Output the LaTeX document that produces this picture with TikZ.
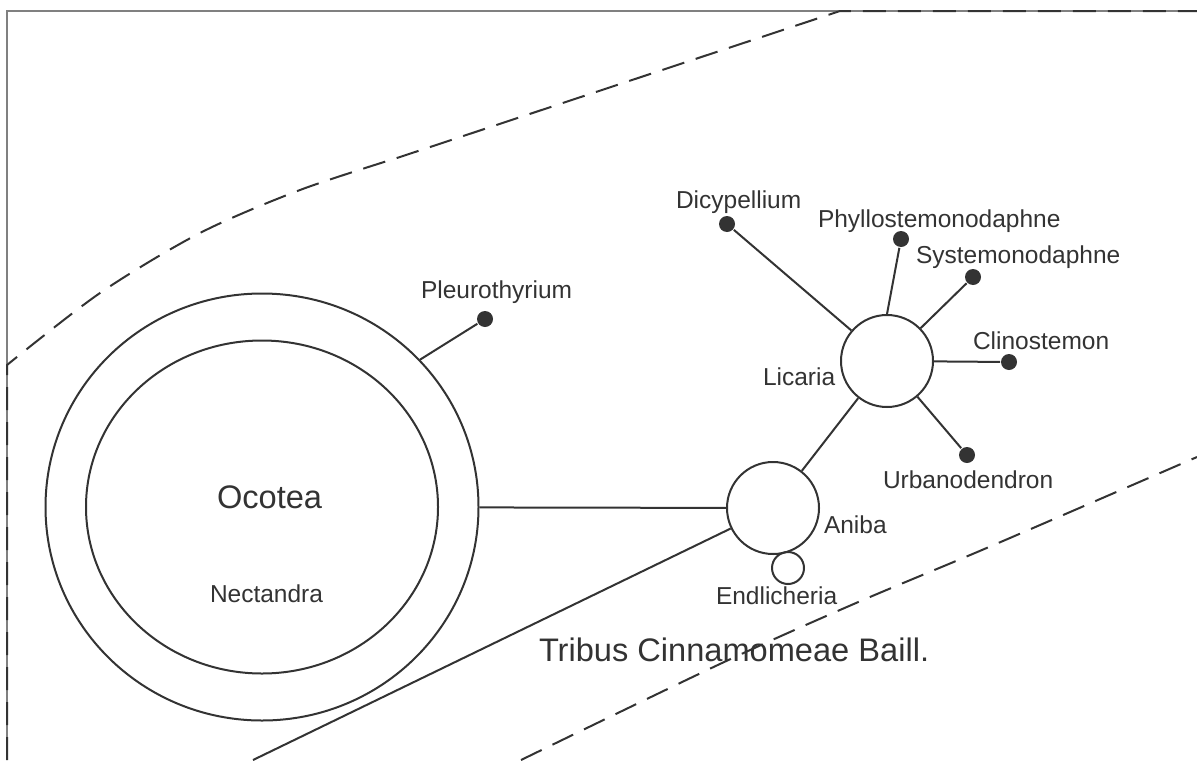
\documentclass[tikz,border=0pt]{standalone}
\usepackage{fontspec}
\setmainfont{Liberation Sans}
\usetikzlibrary{positioning,shapes.geometric}
\definecolor{ink}{HTML}{333333}
\definecolor{framegrey}{HTML}{808080}
\begin{document}
\begin{tikzpicture}[x=0.5pt, y=-0.5pt, ink, line width=1pt,
        genus/.style={draw=ink, circle, inner sep=0pt, line width=1pt},
        ring/.style={draw=ink, ellipse, inner sep=0pt, line width=1pt},
        dot/.style={fill=ink, circle, inner sep=0pt, minimum size=8pt},
        lbl/.style={anchor=base west, inner sep=0pt, text=ink, font=\fontsize{12.25}{15}\selectfont},
        big/.style={lbl, font=\fontsize{16.3}{20}\selectfont},
        border/.style={draw=ink, line width=1pt, dash pattern=on 11.5pt off 6pt}]
                \useasboundingbox (0,0) rectangle (1197,760);
                \draw[framegrey, line width=0.75pt] (7,760) -- (7,11) -- (1197,11);
                \draw[border] (7,760) -- (7,365) -- plot[smooth] coordinates {(7,365) (100,293) (200,233) (300,190) (400,157)} -- (840,11) -- (1197,11);
                \draw[border] plot[smooth] coordinates {(521,760) (722,663) (856,603) (989,547) (1197,457)};

                \node[ring, minimum width=216.5pt, minimum height=213.5pt] (Oc) at (262,507) {};
                \node[ring, minimum width=176pt, minimum height=166.5pt] (Ne) at (262,507) {};
                \node[genus, minimum size=46pt] (An) at (773,508) {};
                \node[genus, minimum size=46pt] (Li) at (887,361) {};
                \node[genus, minimum size=16pt] (En) at (788,568) {};

                \node[dot] (Pl) at (485,319) {};
                \node[dot] (Di) at (727,224) {};
                \node[dot] (Ph) at (901,239) {};
                \node[dot] (Sy) at (973,277) {};
                \node[dot] (Cl) at (1009,362) {};
                \node[dot] (Ur) at (967,455) {};
                \coordinate (SW) at (253,760);

                \draw (Oc) -- (An);
                \draw (Oc.43) -- (Pl);
                \draw (An) -- (SW);
                \draw (An) -- (Li);
                \draw (Li) -- (Di);
                \draw (Li.north) -- (Ph);
                \draw (Li) -- (Sy);
                \draw (Li) -- (Cl);
                \draw (Li) -- (Ur);

                \node[big] (OcT) at (216,508) {Ocotea};
                \node[lbl] (NeT) at (209,602) {Nectandra};
                \node[lbl] (PlT) at (420,298) {Pleurothyrium};
                \node[lbl] (DiT) at (675,208) {Dicypellium};
                \node[lbl] (PhT) at (817,227) {Phyllostemonodaphne};
                \node[lbl] (SyT) at (915,263) {Systemonodaphne};
                \node[lbl] (ClT) at (972,349) {Clinostemon};
                \node[lbl] (LiT) at (762,385) {Licaria};
                \node[lbl] (UrT) at (882,488) {Urbanodendron};
                \node[lbl] (AnT) at (823,533) {Aniba};
                \node[lbl] (EnT) at (715,604) {Endlicheria};
                \node[big] (TrT) at (538,661) {Tribus Cinnamomeae Baill.};
\end{tikzpicture}
\end{document}
